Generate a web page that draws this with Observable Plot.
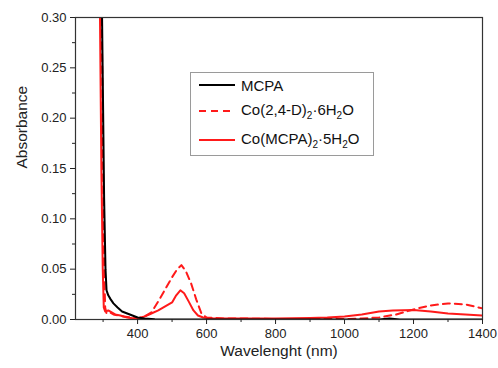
<!DOCTYPE html>
<html><head><meta charset="utf-8">
<script src="https://cdn.jsdelivr.net/npm/d3@7"></script>
<script src="https://cdn.jsdelivr.net/npm/@observablehq/plot@0.6"></script>
<style>
body{margin:0;background:#fff;font-family:"Liberation Sans",Arial,sans-serif;}
#wrap{position:relative;width:498px;height:368px;}
#legend{position:absolute;left:190px;top:72px;width:182px;height:82px;border:1px solid #9a9a9a;background:#fff;font-size:15px;color:#111;}
#legend .row{position:absolute;left:7px;display:flex;align-items:center;}
#legend svg{margin-right:5px;}
sub{font-size:10px;vertical-align:-4px;}
</style></head>
<body><div id="wrap"><div id="chart"></div>
<div id="legend"></div></div>
<script>
const seriesNames = ["MCPA", "Co(2,4-D)₂·6H₂O", "Co(MCPA)₂·5H₂O"];
const mcpaX = [288, 297, 303, 307, 310, 315, 322, 330, 342, 355, 370, 385, 400, 420, 450, 500, 600, 800, 1000, 1100, 1130, 1160, 1200, 1400];
const mcpaY = [0.8, 0.30, 0.12, 0.05, 0.029, 0.024, 0.020, 0.016, 0.012, 0.008, 0.006, 0.004, 0.002, 0.001, 0.0003, 0, 0, 0, 0, 0, 0.001, 0, 0, 0];
const co24dX = [285, 296, 300, 303, 306, 310, 320, 330, 345, 360, 380, 400, 420, 440, 460, 480, 500, 515, 527, 540, 555, 570, 585, 600, 650, 700, 800, 900, 1000, 1050, 1100, 1150, 1200, 1250, 1300, 1350, 1400];
const co24dY = [0.8, 0.30, 0.15, 0.05, 0.012, 0.006, 0.007, 0.005, 0.004, 0.003, 0.002, 0.001, 0.003, 0.007, 0.018, 0.030, 0.042, 0.050, 0.054, 0.048, 0.036, 0.020, 0.006, 0.002, 0.001, 0.001, 0.0005, 0.0005, 0.0005, 0.001, 0.002, 0.005, 0.010, 0.014, 0.016, 0.015, 0.011];
const comcpaX = [283, 291, 295, 299, 302, 306, 315, 325, 335, 350, 370, 390, 405, 420, 440, 460, 475, 490, 500, 512, 524, 535, 548, 562, 575, 590, 620, 700, 800, 900, 950, 1000, 1050, 1100, 1140, 1200, 1250, 1300, 1350, 1400];
const comcpaY = [0.8, 0.30, 0.15, 0.05, 0.012, 0.008, 0.009, 0.007, 0.005, 0.004, 0.002, 0.001, 0.0015, 0.003, 0.006, 0.009, 0.012, 0.015, 0.017, 0.024, 0.029, 0.026, 0.018, 0.009, 0.004, 0.002, 0.001, 0.001, 0.001, 0.0015, 0.002, 0.003, 0.005, 0.008, 0.009, 0.0095, 0.008, 0.006, 0.005, 0.004];
const xMajor = [400, 600, 800, 1000, 1200, 1400];
const xMinor = [300, 500, 700, 900, 1100, 1300];
const yMajor = [0, 0.05, 0.10, 0.15, 0.20, 0.25, 0.30];
const yMinor = [0.025, 0.075, 0.125, 0.175, 0.225, 0.275];

const colors = ["#000000", "#ff1a1a", "#ff1a1a"];
const dashes = [null, "7,5", null];
const mk = (xs, ys, s) => xs.map((x, i) => ({x, y: ys[i], s}));
const data = [...mk(mcpaX, mcpaY, 0), ...mk(co24dX, co24dY, 1), ...mk(comcpaX, comcpaY, 2)];

const lines = [2, 1, 0].map(s => Plot.line(data.filter(d => d.s === s), {
  x: "x", y: "y", stroke: colors[s], strokeWidth: 2, strokeDasharray: dashes[s], clip: true
}));

const chart = Plot.plot({
  width: 498, height: 368,
  marginLeft: 75, marginRight: 16, marginTop: 17, marginBottom: 49,
  style: {fontFamily: '"Liberation Sans", Arial, sans-serif', fontSize: "13px", color: "#222"},
  x: {domain: [220, 1400]},
  y: {domain: [0, 0.30]},
  marks: [
    ...lines,
    Plot.frame({stroke: "#333", strokeWidth: 1.2}),
    Plot.axisX({ticks: xMajor, tickSize: 5, tickPadding: 4, tickFormat: d => String(d), label: null, fontSize: 13}),
    Plot.axisX({ticks: xMinor, tickSize: 3, text: null, label: null}),
    Plot.axisY({ticks: yMajor, tickSize: 5, tickPadding: 4, tickFormat: d3.format(".2f"), label: null, fontSize: 13}),
    Plot.axisY({ticks: yMinor, tickSize: 3, text: null, label: null}),
    Plot.text(["Wavelenght (nm)"], {frameAnchor: "bottom", dy: 36, fontSize: 15.5, fill: "#222"}),
    Plot.text(["Absorbance"], {frameAnchor: "left", dx: -53, rotate: -90, fontSize: 15.5, fill: "#222"})
  ]
});
document.getElementById("chart").appendChild(chart);

const legendHTML = [
  "MCPA",
  "Co(2,4-D)<sub>2</sub>·6H<sub>2</sub>O",
  "Co(MCPA)<sub>2</sub>·5H<sub>2</sub>O"
];
const leg = document.getElementById("legend");
const tops = [2, 28, 57];
seriesNames.forEach((n, i) => {
  const row = document.createElement("div");
  row.className = "row";
  row.style.top = tops[i] + "px";
  row.innerHTML = `<svg width="38" height="20"><line x1="1" x2="37" y1="10" y2="10" stroke="${colors[i]}" stroke-width="2" ${dashes[i] ? `stroke-dasharray="${dashes[i]}"` : ""}/></svg><span>${legendHTML[i]}</span>`;
  leg.appendChild(row);
});
</script></body></html>
